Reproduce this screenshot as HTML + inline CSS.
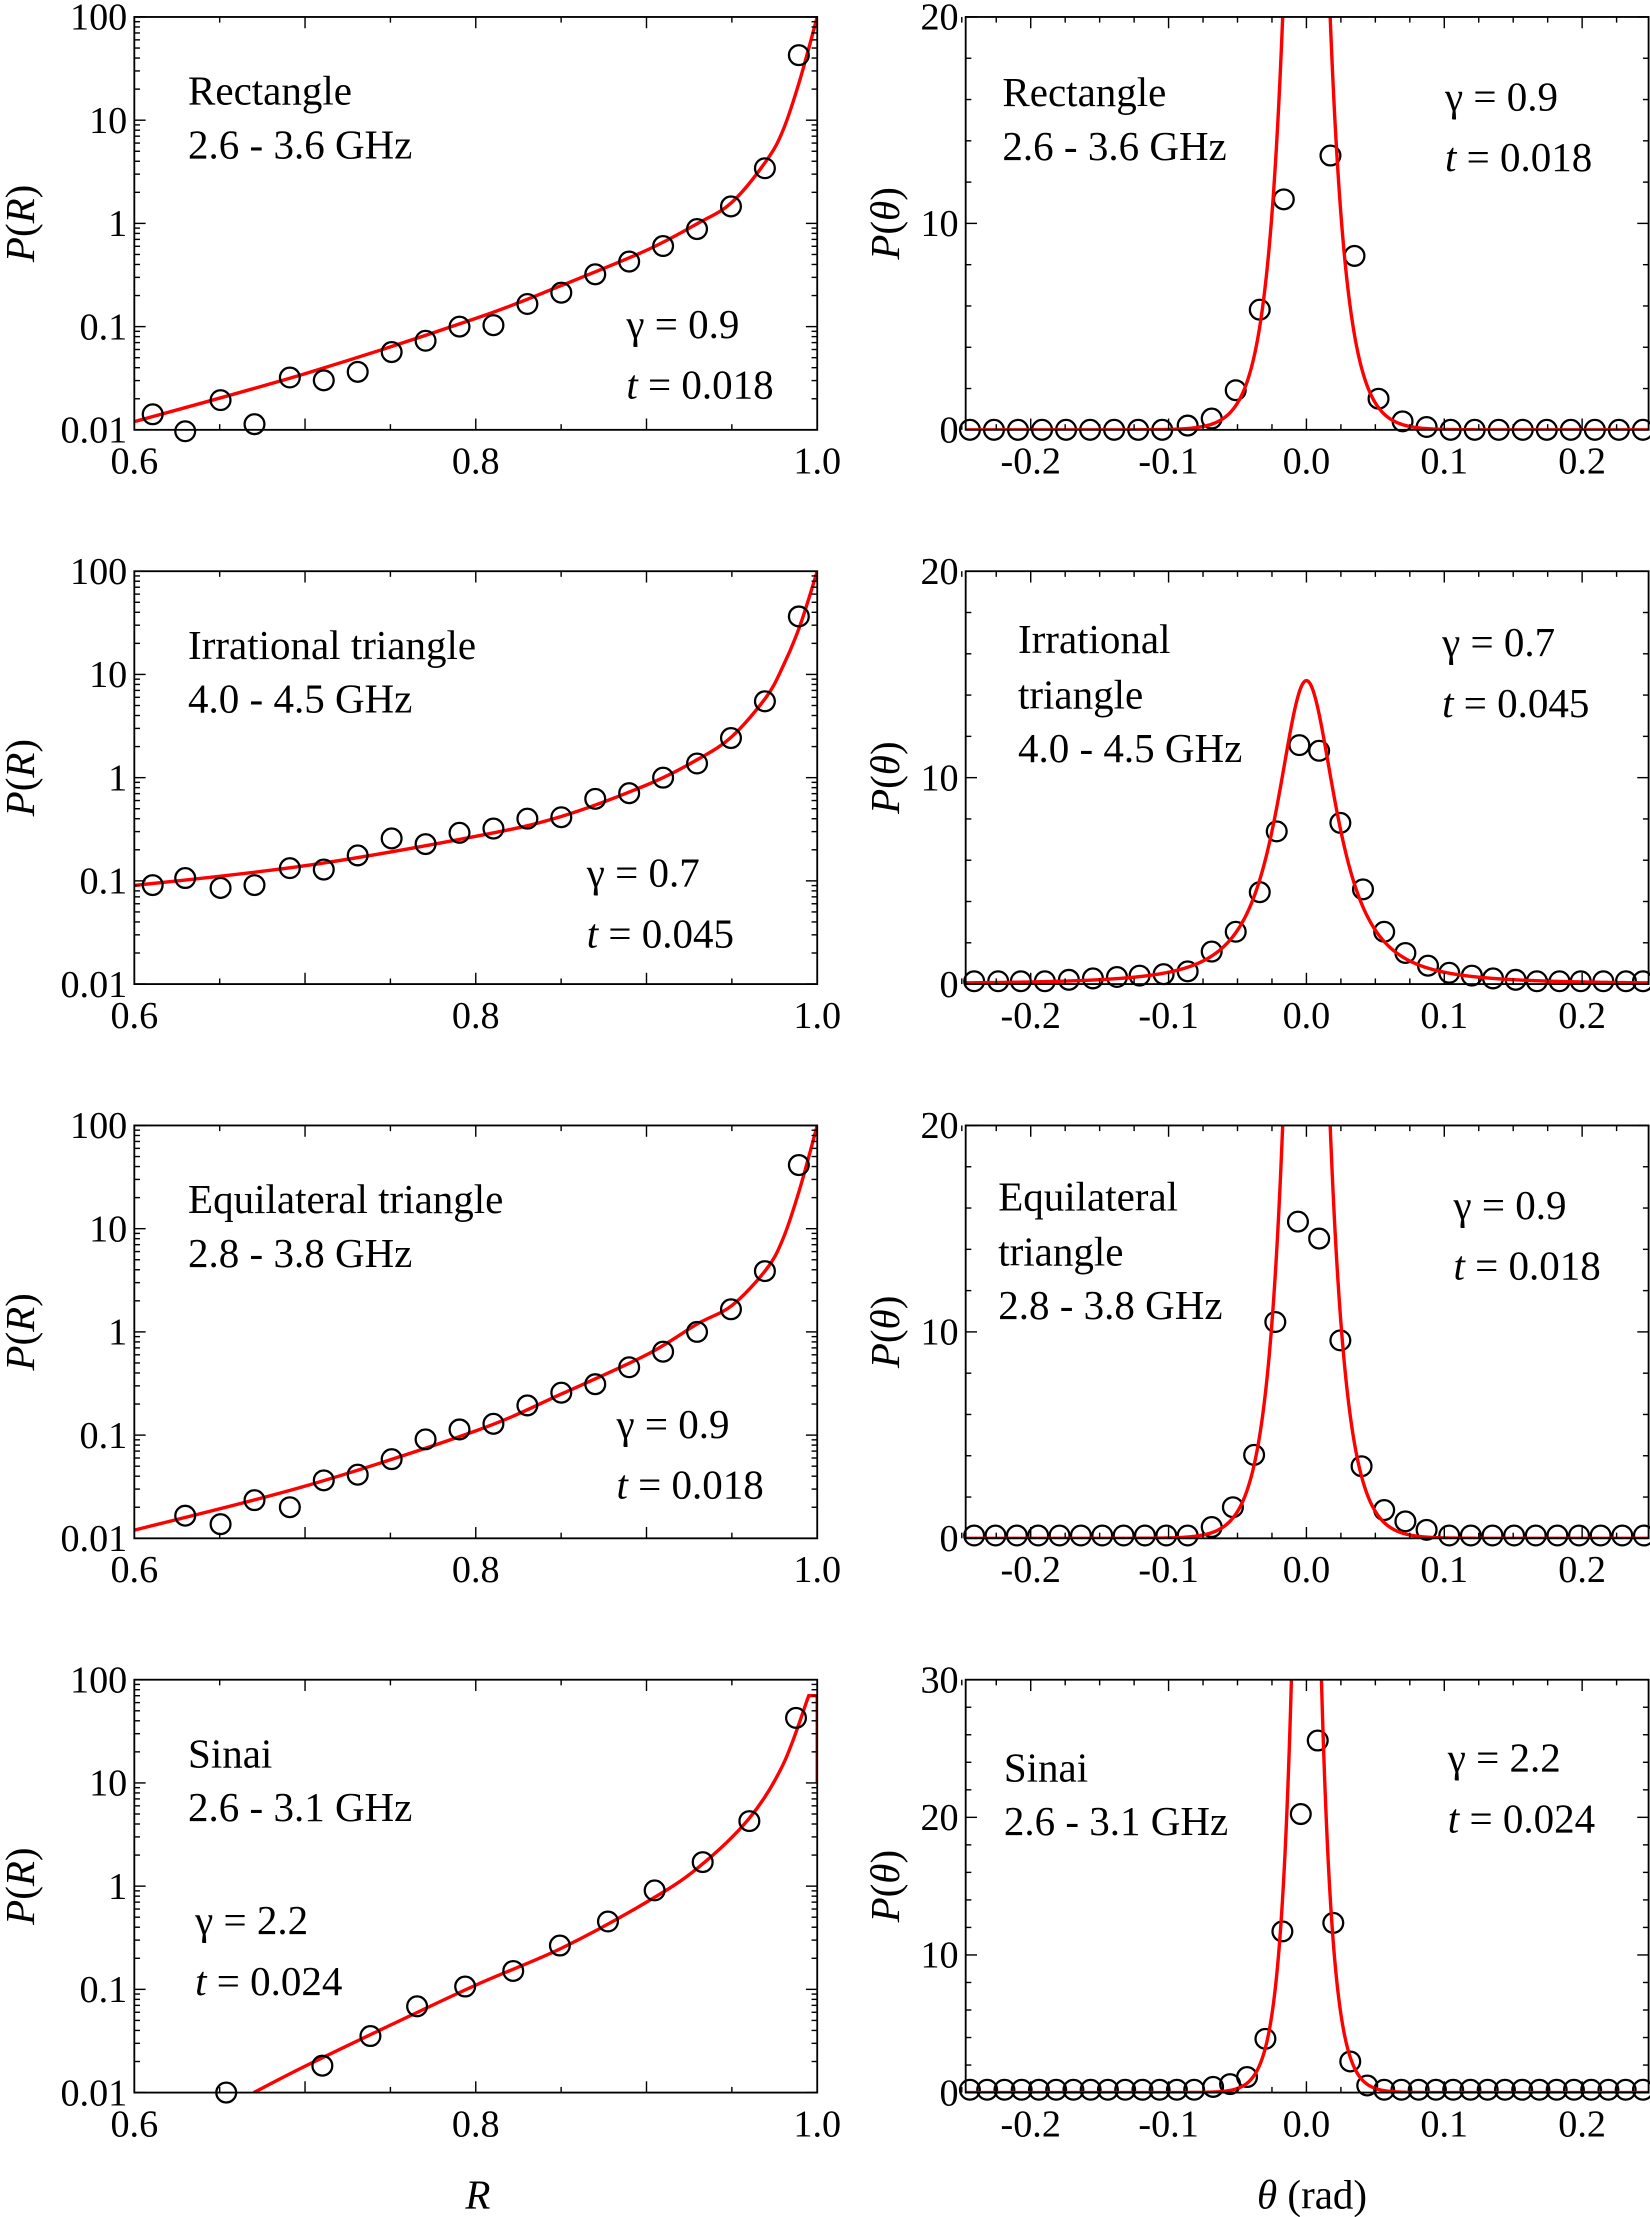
<!DOCTYPE html>
<html><head><meta charset="utf-8">
<style>
html,body{margin:0;padding:0;background:#fff;}
svg{display:block;}
text{font-family:"Liberation Serif",serif;fill:#000;}
</style></head>
<body>
<svg id="s" width="1650" height="2217" viewBox="0 0 1167 1568" preserveAspectRatio="none" xmlns="http://www.w3.org/2000/svg">
</svg>
<script>
var S=document.getElementById('s');var out='';
function line(x1,y1,x2,y2,w,c){out+='<line x1="'+x1+'" y1="'+y1+'" x2="'+x2+'" y2="'+y2+'" stroke="'+(c||'#000')+'" stroke-width="'+(w||1)+'"/>';}
function txt(x,y,s,sz,anchor,extra){out+='<text x="'+x+'" y="'+y+'" font-size="'+sz+'" text-anchor="'+(anchor||'start')+'" '+(extra||'')+'>'+s+'</text>';}
function circ(x,y){out+='<circle cx="'+x+'" cy="'+y+'" r="7" fill="none" stroke="#000" stroke-width="1.6"/>';}
var tops=[12,404,796,1188],H=292;
var LX0=95,LX1=578,RX0=683,RX1=1166;
var FS=29,TS=27;
function rx(r){return LX0+(r-0.6)/0.4*(LX1-LX0);}
function ly(p,t){return t+H-(Math.log10(p)+2)/4*H;}
function tx(th){return 924+th*975;}
var lc=[
[[0.6,0.012],[0.7,0.035],[0.8,0.12],[0.85,0.25],[0.9,0.55],[0.93,1.0],[0.95,1.6],[0.97,4],[0.98,8],[0.99,25],[1.0,100]],
[[0.6,0.09],[0.7,0.14],[0.8,0.27],[0.85,0.42],[0.9,0.85],[0.93,1.5],[0.95,2.5],[0.97,6],[0.98,12],[0.99,30],[1.0,100]],
[[0.6,0.012],[0.7,0.032],[0.8,0.11],[0.85,0.25],[0.9,0.6],[0.93,1.2],[0.95,1.8],[0.97,4],[0.98,8],[0.99,25],[1.0,100]],
[[0.67,0.01],[0.7,0.018],[0.75,0.045],[0.8,0.11],[0.85,0.25],[0.9,0.7],[0.93,1.5],[0.96,4.5],[0.98,15],[0.995,70]]
];
var lpts=[
[[108,293],[131,305],[156,283],[180,300],[205,267],[229,269],[253,263],[277,249],[301,241],[325,231],[349,230],[373,215],[397,207],[421,194],[445,185],[469,174],[493,162],[517,146],[541,119],[565,39]],
[[108,626],[131,621],[156,628],[180,626],[205,614],[229,615],[253,605],[277,593],[301,597],[325,589],[349,586],[373,579],[397,578],[421,565],[445,561],[469,550],[493,540],[517,522],[541,496],[565,436]],
[[131,1072],[156,1078],[180,1061],[205,1066],[229,1047],[253,1043],[277,1032],[301,1018],[325,1011],[349,1007],[373,994],[397,985],[421,979],[445,967],[469,956],[493,942],[517,926],[541,899],[565,824]],
[[160,1480],[228,1461],[262,1440],[295,1419],[329,1405],[363,1394],[396,1376],[430,1359],[463,1337],[497,1317],[530,1288],[563,1215]]
];
var names=[["Rectangle","2.6 - 3.6 GHz"],["Irrational triangle","4.0 - 4.5 GHz"],["Equilateral triangle","2.8 - 3.8 GHz"],["Sinai","2.6 - 3.1 GHz"]];
var gt=[["0.9","0.018",443,239],["0.7","0.045",415,627],["0.9","0.018",436,1017],["2.2","0.024",138,1368]];
function smooth(P){var d='M'+P[0][0].toFixed(1)+','+P[0][1].toFixed(1);
 for(var i=0;i<P.length-1;i++){var p0=P[Math.max(0,i-1)],p1=P[i],p2=P[i+1],p3=P[Math.min(P.length-1,i+2)];
  var c1=[p1[0]+(p2[0]-p0[0])/6,p1[1]+(p2[1]-p0[1])/6],c2=[p2[0]-(p3[0]-p1[0])/6,p2[1]-(p3[1]-p1[1])/6];
  d+=' C'+c1[0].toFixed(1)+','+c1[1].toFixed(1)+' '+c2[0].toFixed(1)+','+c2[1].toFixed(1)+' '+p2[0].toFixed(1)+','+p2[1].toFixed(1);}
 return d;}
for(var k=0;k<4;k++){var t=tops[k],b=t+H;
 out+='<clipPath id="cl'+k+'"><rect x="'+LX0+'" y="'+t+'" width="'+(LX1-LX0)+'" height="'+H+'"/></clipPath>';
 var P=lc[k].map(function(q){return [rx(q[0]),ly(q[1],t)];});
 var d=smooth(P); if(k==3) d+=' L'+rx(1.0)+','+ly(70,t)+' L'+rx(1.0)+','+ly(10,t);
 out+='<path d="'+d+'" fill="none" stroke="#f00" stroke-width="2.4" clip-path="url(#cl'+k+')"/>';
 lpts[k].forEach(function(q){if(q[1]<=b+1)circ(q[0],q[1]);});
 out+='<rect x="'+LX0+'" y="'+t+'" width="'+(LX1-LX0)+'" height="'+H+'" fill="none" stroke="#000" stroke-width="1.3"/>';
 for(var e=-2;e<=2;e++){var y=ly(Math.pow(10,e),t);line(LX0,y,LX0+8,y);line(LX1,y,LX1-8,y);
  if(e<2){for(var m=2;m<10;m++){var ym=ly(m*Math.pow(10,e),t);line(LX0,ym,LX0+4,ym);line(LX1,ym,LX1-4,ym);}}}
 var lab=["0.01","0.1","1","10","100"];
 for(var e=0;e<5;e++)txt(90,ly(Math.pow(10,e-2),t)+9,lab[e],TS,'end');
 for(var r=0.6;r<=1.0001;r+=0.05){var x=rx(r);var L=(Math.round(r*100)%10==0)?8:4;line(x,b,x,b-L);line(x,t,x,t+L);}
 txt(rx(0.6),b+31,"0.6",TS,'middle');txt(rx(0.8),b+31,"0.8",TS,'middle');txt(rx(1.0),b+31,"1.0",TS,'middle');
 txt(133,t+62,names[k][0],FS);txt(133,t+100,names[k][1],FS);
 var g=gt[k];txt(g[2],g[3],"γ = "+g[0],FS);txt(g[2],g[3]+43,'<tspan font-style="italic">t</tspan> = '+g[1],FS);
 out+='<text transform="translate(24,'+(t+146)+') rotate(-90)" font-size="'+FS+'" text-anchor="middle"><tspan font-style="italic">P</tspan>(<tspan font-style="italic">R</tspan>)</text>';
}
var rf=[
 function(th){return 84*Math.exp(-Math.abs(th)/0.012);},
 function(th){return 14.7/Math.pow(1+Math.pow(th/0.03,2),1.3);},
 function(th){return 84*Math.exp(-Math.abs(th)/0.012);},
 function(th){return 108*Math.exp(-Math.abs(th)/0.0085);}
];
var ymax=[20,20,20,30];
function py(p,k){return tops[k]+H-p/ymax[k]*H;}
var rp=[];
(function(){var a=[];for(var x=686;x<=830;x+=17)a.push([x,304]);
 a=a.concat([[840,301],[857,296],[874,276],[891,219],[908,141],[941,110],[958,181],[975,282],[992,298],[1009,302]]);
 for(var x=1026;x<=1163;x+=17)a.push([x,304]);rp.push(a);})();
rp.push([[689,694],[706,694],[722,694],[739,694],[756,693],[773,692],[790,691],[806,690],[823,689],[840,687],[857,673],[874,659],[891,631],[903,588],[919,527],[933,531],[948,582],[964,629],[979,659],[994,674],[1010,683],[1025,688],[1041,690],[1056,692],[1072,693],[1087,694],[1103,694],[1118,694],[1134,694],[1150,694],[1162,694]]);
(function(){var a=[];for(var x=689;x<=845;x+=15.1)a.push([x,1086]);a=a.concat([[857,1080],[872,1066],[887,1029],[902,935],[918,864],[933,876],[948,948],[963,1037],[979,1068],[994,1076],[1009,1082]]);for(var x=1025;x<=1163;x+=15.3)a.push([x,1086]);rp.push(a);})();
(function(){var a=[];for(var x=686;x<=846;x+=12.2)a.push([x,1478]);a=a.concat([[858,1476],[870,1474],[882,1469],[895,1442],[907,1366],[920,1283],[932,1231],[943,1360],[955,1458],[967,1475]]);for(var x=979;x<=1163;x+=12.2)a.push([x,1478]);rp.push(a);})();
var rn=[["Rectangle","2.6 - 3.6 GHz"],["Irrational","triangle","4.0 - 4.5 GHz"],["Equilateral","triangle","2.8 - 3.8 GHz"],["Sinai","2.6 - 3.1 GHz"]];
var rnx=[709,720,706,710],rny=[[75,113],[462,501,539],[856,895,933],[1260,1298]];
var rg=[["0.9","0.018",1022,78],["0.7","0.045",1020,464],["0.9","0.018",1028,862],["2.2","0.024",1024,1253]];
for(var k=0;k<4;k++){var t=tops[k],b=t+H;
 out+='<clipPath id="cr'+k+'"><rect x="'+RX0+'" y="'+t+'" width="'+(RX1-RX0)+'" height="'+H+'"/></clipPath>';
 var d='';for(var i=0;i<=1000;i++){var th=-0.26+i*0.52/1000;var x=tx(th),y=py(rf[k](th),k);if(y<t-20)y=t-20;d+=(i?'L':'M')+x.toFixed(2)+','+y.toFixed(2);}
 rp[k].forEach(function(q){circ(q[0],q[1]);});
 out+='<path d="'+d+'" fill="none" stroke="#f00" stroke-width="2.4" clip-path="url(#cr'+k+')"/>';
 out+='<rect x="'+RX0+'" y="'+t+'" width="'+(RX1-RX0)+'" height="'+H+'" fill="none" stroke="#000" stroke-width="1.3"/>';
 for(var v=0;v<=ymax[k];v+=2){var y=py(v,k);var L=(v%10==0)?8:4;line(RX0,y,RX0+L,y);line(RX1,y,RX1-L,y);}
 for(var v=0;v<=ymax[k];v+=10)txt(678,py(v,k)+9,v,TS,'end');
 for(var i=-25;i<=25;i+=2.5){var x=tx(i/100);var L=(i%10==0)?8:4;line(x,b,x,b-L);line(x,t,x,t+L);}
 var xl=["-0.2","-0.1","0.0","0.1","0.2"];for(var i=0;i<5;i++)txt(tx(-0.2+i*0.1),b+31,xl[i],TS,'middle');
 for(var j=0;j<rn[k].length;j++)txt(rnx[k],rny[k][j],rn[k][j],FS);
 var g=rg[k];txt(g[2],g[3],"γ = "+g[0],FS);txt(g[2],g[3]+43,'<tspan font-style="italic">t</tspan> = '+g[1],FS);
 out+='<text transform="translate(636,'+(t+146)+') rotate(-90)" font-size="'+FS+'" text-anchor="middle"><tspan font-style="italic">P</tspan>(<tspan font-style="italic">θ</tspan>)</text>';
}
txt(338,1562,'<tspan font-style="italic">R</tspan>',FS,'middle');
txt(928,1562,'<tspan font-style="italic">θ</tspan> (rad)',FS,'middle');
S.innerHTML=out;
</script>
</body></html>
